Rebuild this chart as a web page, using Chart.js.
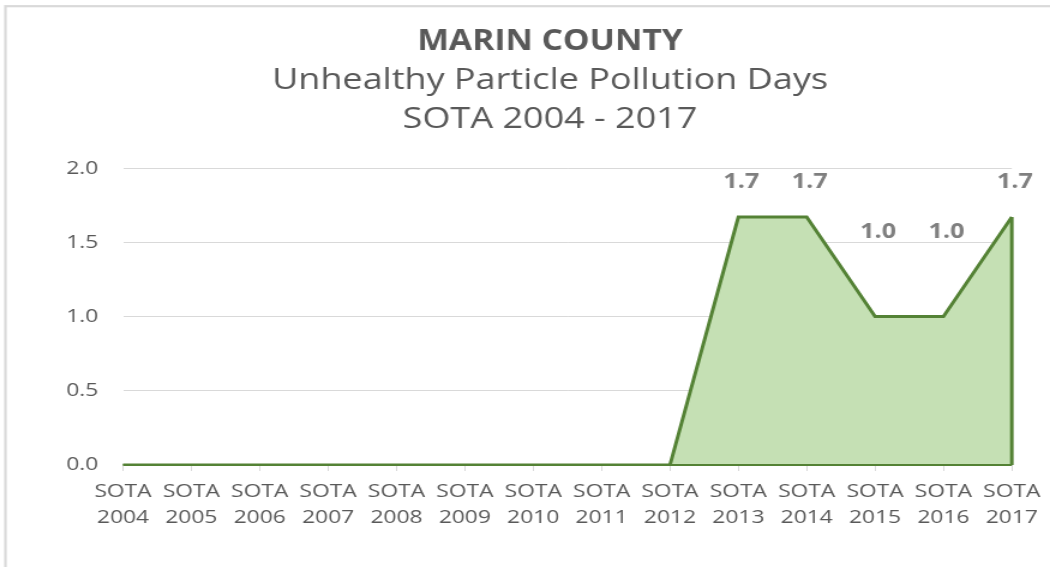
<!DOCTYPE html>
<html>
<head>
<meta charset="utf-8">
<script src="https://cdn.jsdelivr.net/npm/chart.js@4/dist/chart.umd.min.js"></script>
<style>
  html, body { margin: 0; padding: 0; background: #fff; overflow: hidden; }
</style>
</head>
<body>
<canvas id="myChart" width="875" height="567" style="display:block;width:1050px;height:567px;"></canvas>
<script>
// chart values
var years = ['2004', '2005', '2006', '2007', '2008', '2009', '2010', '2011', '2012', '2013', '2014', '2015', '2016', '2017'];
var days = [0, 0, 0, 0, 0, 0, 0, 0, 0, 1.67, 1.67, 1.0, 1.0, 1.67];
var yTicks = [0, 0.5, 1.0, 1.5, 2.0];
var titleLines = ['Unhealthy Particle Pollution Days', 'SOTA 2004 - 2017'];

var labels = years.map(function (y) { return ['SOTA', y]; });

// the original picture is stretched sideways, so the canvas is drawn narrow and widened by css
var sx = 1050 / 875;
var font = 'Open Sans';
var textColor = '#595959';
var lineColor = '#548235';

// border of the chart frame
var framePlugin = {
    id: 'frame',
    beforeDraw: function (chart) {
        var ctx = chart.ctx;
        ctx.save();
        ctx.strokeStyle = '#d9d9d9';
        ctx.lineWidth = 2.2;
        ctx.strokeRect(5.4 / sx, 6.2, 2000, 2000);
        ctx.restore();
    }
};

// closes the area outline and writes the value labels
var areaLabels = {
    id: 'areaLabels',
    afterDatasetsDraw: function (chart) {
        var ctx = chart.ctx;
        var meta = chart.getDatasetMeta(0);
        var base = chart.scales.y.getPixelForValue(0);
        var pts = meta.data;
        var last = pts[pts.length - 1];

        ctx.save();
        ctx.strokeStyle = lineColor;
        ctx.lineWidth = 2;
        ctx.beginPath();
        ctx.moveTo(pts[0].x, base);
        ctx.lineTo(last.x, base);
        ctx.stroke();
        ctx.lineWidth = 3;
        ctx.beginPath();
        ctx.moveTo(last.x, last.y);
        ctx.lineTo(last.x, base);
        ctx.stroke();

        ctx.fillStyle = '#7f7f7f';
        ctx.font = 'bold 21px "' + font + '"';
        ctx.textAlign = 'center';
        ctx.textBaseline = 'middle';
        pts.forEach(function (p, i) {
            var v = days[i];
            if (!v) return;
            var off = v >= 1.5 ? 35 : 85;
            ctx.fillText(v.toFixed(1), p.x + 2.5, p.y - off);
        });
        ctx.restore();
    }
};

var ctx = document.getElementById('myChart').getContext('2d');

var myChart = new Chart(ctx, {
    type: 'line',
    data: {
        labels: labels,
        datasets: [{
            data: days,
            yAxisID: 'y',
            fill: 'origin',
            backgroundColor: '#c5e0b4',
            borderColor: lineColor,
            borderWidth: 3,
            pointRadius: 0,
            tension: 0
        }]
    },
    options: {
        responsive: false,
        devicePixelRatio: 1,
        animation: false,
        layout: { padding: { top: 0, left: 52.5, right: 10.8, bottom: 0 } },
        plugins: {
            legend: { display: false },
            tooltip: { enabled: false },
            title: {
                display: true,
                text: 'MARIN COUNTY',
                color: textColor,
                font: { family: font, size: 28, weight: 'bold', lineHeight: 1.2 },
                padding: { top: 25, bottom: 2.5 }
            },
            subtitle: {
                display: true,
                text: titleLines,
                color: textColor,
                font: { family: font, size: 30, weight: 'normal', lineHeight: 39 / 30 },
                padding: { top: 0, bottom: 29 }
            }
        },
        scales: {
            x: {
                offset: false,
                grid: { drawOnChartArea: false, drawTicks: true, tickLength: 6, color: '#d9d9d9' },
                border: { color: '#d9d9d9', width: 1 },
                ticks: {
                    color: textColor,
                    font: { family: font, size: 19, lineHeight: 25.5 / 19 },
                    padding: 8,
                    maxRotation: 0,
                    autoSkip: false
                },
                afterFit: function (scale) { scale.height = 102; }
            },
            y: {
                min: yTicks[0],
                max: yTicks[yTicks.length - 1],
                grid: { color: '#d9d9d9', drawTicks: false },
                border: { display: false },
                afterBuildTicks: function (scale) {
                    scale.ticks = yTicks.map(function (v) { return { value: v }; });
                },
                ticks: {
                    color: textColor,
                    font: { family: font, size: 19 },
                    padding: 20.6,
                    callback: function (v) { return Number(v).toFixed(1); }
                },
                afterFit: function (scale) { scale.width = 50; }
            },
            // empty right margin so the titles sit where they do in the original
            yRight: {
                position: 'right',
                grid: { display: false },
                border: { display: false },
                ticks: { display: false },
                afterFit: function (scale) { scale.width = 20; }
            }
        }
    },
    plugins: [framePlugin, areaLabels]
});
</script>
</body>
</html>
